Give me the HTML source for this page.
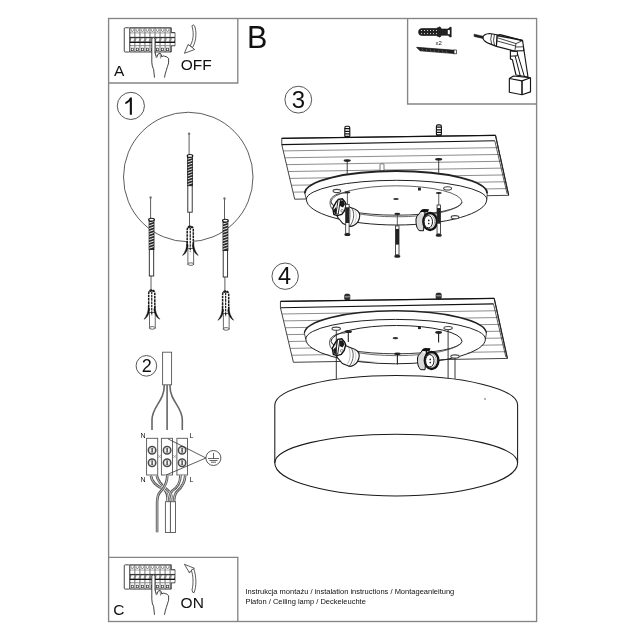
<!DOCTYPE html>
<html><head><meta charset="utf-8">
<style>
html,body{margin:0;padding:0;background:#fff;width:640px;height:640px;overflow:hidden}
svg{display:block;will-change:transform}
text{font-family:"Liberation Sans",sans-serif;fill:#111}
</style></head><body>
<svg width="640" height="640" viewBox="0 0 640 640">
<defs>
  <clipPath id="board3clip"><polygon points="281.75,138.3 495.5,135.3 508.7,195.3 294.7,199.2 281.75,144.6"/></clipPath>
  <!-- anchor (dot at origin) -->
  <g id="anchor">
    <circle cx="0" cy="0" r="1.2" fill="#777" stroke="none"/>
    <line x1="0" y1="0.8" x2="0" y2="21" stroke="#333" stroke-width="0.8"/>
    <rect x="-1.5" y="22" width="4.9" height="30" fill="#2a2a2a" stroke="#111" stroke-width="0.8"/>
    <path d="M-1.4,25.5 L3.2,23.9 M-1.4,28.3 L3.2,26.7 M-1.4,31.1 L3.2,29.5 M-1.4,33.9 L3.2,32.3 M-1.4,36.7 L3.2,35.1 M-1.4,39.5 L3.2,37.9 M-1.4,42.3 L3.2,40.7 M-1.4,45.1 L3.2,43.5 M-1.4,47.9 L3.2,46.3 M-1.4,50.7 L3.2,49.1 " stroke="#fff" stroke-width="0.9"/>
    <ellipse cx="0.9" cy="22.2" rx="2.8" ry="1.4" fill="#fff" stroke="#111" stroke-width="1.1"/>
    <rect x="-1.3" y="52" width="4.4" height="26.5" fill="#fff" stroke="#222" stroke-width="0.9"/>
    <line x1="0.4" y1="78.5" x2="0.4" y2="92.5" stroke="#333" stroke-width="0.8"/>
    <!-- plug -->
    <rect x="-1.2" y="114.9" width="5.8" height="15.8" fill="#fff" stroke="#444" stroke-width="0.8"/>
    <ellipse cx="1.7" cy="130.4" rx="2.9" ry="1.3" fill="#fff" stroke="#444" stroke-width="0.8"/>
    <path d="M-1.9,113 L-1.9,96 Q-1.9,92.6 1.15,92.6 Q4.2,92.6 4.2,96 L4.2,113 Z" fill="#fff" stroke="none"/>
    <path d="M-1.9,113 L-1.9,96 Q-1.9,92.6 1.15,92.6 Q4.2,92.6 4.2,96 L4.2,113" fill="none" stroke="#1a1a1a" stroke-width="1.5" stroke-dasharray="2.6,0.7"/>
    <path d="M-0.9,94.2 Q1.15,92 3.2,94.2" fill="none" stroke="#1a1a1a" stroke-width="1.4"/>
    <line x1="1.15" y1="94" x2="1.15" y2="117.8" stroke="#1a1a1a" stroke-width="1.2" stroke-dasharray="2.6,0.7"/>
    <path d="M-2.2,108 C-2.2,114 -4,118.5 -6.6,121.8 C-3.8,120.4 -1.6,117.5 -0.9,112 Z" fill="#111" stroke="#111" stroke-width="0.4"/>
    <path d="M4.5,108 C4.5,114 6.5,118.5 9.2,121.8 C6.4,120.4 4.1,117.5 3.2,112 Z" fill="#111" stroke="#111" stroke-width="0.4"/>
  </g>
  <!-- hanging screw (top head at origin) -->
  <g id="screw">
    <ellipse cx="0" cy="0" rx="3" ry="1.1" fill="#222" stroke="none"/>
    <line x1="0" y1="0" x2="0" y2="12" stroke="#333" stroke-width="0.8"/>
    <rect x="-1.7" y="12" width="3.4" height="29" fill="#fff" stroke="#222" stroke-width="0.8"/>
    <rect x="-1.7" y="15" width="3.4" height="15.7" fill="#222" stroke="none"/>
    <ellipse cx="0" cy="42.3" rx="3" ry="1.5" fill="#222" stroke="none"/>
  </g>
  <!-- breaker panel -->
<g id="breaker">
<path d="M5.5,0 L47,0 L47,4.8 L50.7,4.8 L50.7,18 L47,18 L47,24.25 L5.5,24.25 Z" fill="#8a8a8a" stroke="#222" stroke-width="0.8"/>
<rect x="0" y="0" width="5.5" height="24.25" rx="1" fill="#fff" stroke="#333" stroke-width="0.9"/>
<path d="M6.10,0.9 h3.85 v3 q0,0.9 -0.9,0.9 h-2.05 q-0.9,0 -0.9,-0.9 Z" fill="#fff"/>
<path d="M6.93,1.6 v1 a1.1,1.1 0 0 0 2.2,0 v-1" fill="none" stroke="#333" stroke-width="0.6"/>
<rect x="6.10" y="5.6" width="3.85" height="3.4" fill="#fff"/>
<path d="M6.40,13.8 L7.20,10.4 L9.95,10.4 L9.15,13.8 Z" fill="#fff"/>
<rect x="6.10" y="15.2" width="3.85" height="2.2" fill="#fff"/>
<rect x="6.10" y="18.4" width="3.85" height="5.2" fill="#fff"/>
<rect x="7.00" y="20.4" width="2.05" height="2.5" fill="none" stroke="#333" stroke-width="0.7"/>
<path d="M11.15,0.9 h3.85 v3 q0,0.9 -0.9,0.9 h-2.05 q-0.9,0 -0.9,-0.9 Z" fill="#fff"/>
<path d="M11.98,1.6 v1 a1.1,1.1 0 0 0 2.2,0 v-1" fill="none" stroke="#333" stroke-width="0.6"/>
<rect x="11.15" y="5.6" width="3.85" height="3.4" fill="#fff"/>
<path d="M11.45,13.8 L12.25,10.4 L15.00,10.4 L14.20,13.8 Z" fill="#fff"/>
<rect x="11.15" y="15.2" width="3.85" height="2.2" fill="#fff"/>
<rect x="11.15" y="18.4" width="3.85" height="5.2" fill="#fff"/>
<rect x="12.05" y="20.4" width="2.05" height="2.5" fill="none" stroke="#333" stroke-width="0.7"/>
<path d="M16.20,0.9 h3.85 v3 q0,0.9 -0.9,0.9 h-2.05 q-0.9,0 -0.9,-0.9 Z" fill="#fff"/>
<path d="M17.02,1.6 v1 a1.1,1.1 0 0 0 2.2,0 v-1" fill="none" stroke="#333" stroke-width="0.6"/>
<rect x="16.20" y="5.6" width="3.85" height="3.4" fill="#fff"/>
<path d="M16.50,13.8 L17.30,10.4 L20.05,10.4 L19.25,13.8 Z" fill="#fff"/>
<rect x="16.20" y="15.2" width="3.85" height="2.2" fill="#fff"/>
<rect x="16.20" y="18.4" width="3.85" height="5.2" fill="#fff"/>
<rect x="17.10" y="20.4" width="2.05" height="2.5" fill="none" stroke="#333" stroke-width="0.7"/>
<path d="M21.25,0.9 h3.85 v3 q0,0.9 -0.9,0.9 h-2.05 q-0.9,0 -0.9,-0.9 Z" fill="#fff"/>
<path d="M22.07,1.6 v1 a1.1,1.1 0 0 0 2.2,0 v-1" fill="none" stroke="#333" stroke-width="0.6"/>
<rect x="21.25" y="5.6" width="3.85" height="3.4" fill="#fff"/>
<path d="M21.55,13.8 L22.35,10.4 L25.10,10.4 L24.30,13.8 Z" fill="#fff"/>
<rect x="21.25" y="15.2" width="3.85" height="2.2" fill="#fff"/>
<rect x="21.25" y="18.4" width="3.85" height="5.2" fill="#fff"/>
<rect x="22.15" y="20.4" width="2.05" height="2.5" fill="none" stroke="#333" stroke-width="0.7"/>
<path d="M26.30,0.9 h3.85 v3 q0,0.9 -0.9,0.9 h-2.05 q-0.9,0 -0.9,-0.9 Z" fill="#fff"/>
<path d="M27.12,1.6 v1 a1.1,1.1 0 0 0 2.2,0 v-1" fill="none" stroke="#333" stroke-width="0.6"/>
<rect x="26.30" y="5.6" width="3.85" height="3.4" fill="#fff"/>
<path d="M26.60,13.8 L27.40,10.4 L30.15,10.4 L29.35,13.8 Z" fill="#fff"/>
<rect x="26.30" y="15.2" width="3.85" height="2.2" fill="#fff"/>
<rect x="26.30" y="18.4" width="3.85" height="5.2" fill="#fff"/>
<rect x="27.20" y="20.4" width="2.05" height="2.5" fill="none" stroke="#333" stroke-width="0.7"/>
<path d="M31.35,0.9 h3.85 v3 q0,0.9 -0.9,0.9 h-2.05 q-0.9,0 -0.9,-0.9 Z" fill="#fff"/>
<path d="M32.17,1.6 v1 a1.1,1.1 0 0 0 2.2,0 v-1" fill="none" stroke="#333" stroke-width="0.6"/>
<rect x="31.35" y="5.6" width="3.85" height="3.4" fill="#fff"/>
<path d="M31.65,13.8 L32.45,10.4 L35.20,10.4 L34.40,13.8 Z" fill="#fff"/>
<rect x="31.35" y="15.2" width="3.85" height="2.2" fill="#fff"/>
<rect x="31.35" y="18.4" width="3.85" height="5.2" fill="#fff"/>
<rect x="32.25" y="20.4" width="2.05" height="2.5" fill="none" stroke="#333" stroke-width="0.7"/>
<path d="M36.40,0.9 h3.85 v3 q0,0.9 -0.9,0.9 h-2.05 q-0.9,0 -0.9,-0.9 Z" fill="#fff"/>
<path d="M37.22,1.6 v1 a1.1,1.1 0 0 0 2.2,0 v-1" fill="none" stroke="#333" stroke-width="0.6"/>
<rect x="36.40" y="5.6" width="3.85" height="3.4" fill="#fff"/>
<path d="M36.70,13.8 L37.50,10.4 L40.25,10.4 L39.45,13.8 Z" fill="#fff"/>
<rect x="36.40" y="15.2" width="3.85" height="2.2" fill="#fff"/>
<rect x="36.40" y="18.4" width="3.85" height="5.2" fill="#fff"/>
<rect x="37.30" y="20.4" width="2.05" height="2.5" fill="none" stroke="#333" stroke-width="0.7"/>
<path d="M41.45,0.9 h3.85 v3 q0,0.9 -0.9,0.9 h-2.05 q-0.9,0 -0.9,-0.9 Z" fill="#fff"/>
<path d="M42.27,1.6 v1 a1.1,1.1 0 0 0 2.2,0 v-1" fill="none" stroke="#333" stroke-width="0.6"/>
<rect x="41.45" y="5.6" width="3.85" height="3.4" fill="#fff"/>
<path d="M41.75,13.8 L42.55,10.4 L45.30,10.4 L44.50,13.8 Z" fill="#fff"/>
<rect x="41.45" y="15.2" width="3.85" height="2.2" fill="#fff"/>
<rect x="41.45" y="18.4" width="3.85" height="5.2" fill="#fff"/>
<rect x="42.35" y="20.4" width="2.05" height="2.5" fill="none" stroke="#333" stroke-width="0.7"/>
<rect x="46.50" y="5.6" width="3.85" height="3.4" fill="#fff"/>
<path d="M46.80,13.8 L47.60,10.4 L50.35,10.4 L49.55,13.8 Z" fill="#fff"/>
<rect x="46.50" y="15.2" width="3.85" height="2.2" fill="#fff"/>
<path d="M5.5,9.8 H50.7" stroke="#222" stroke-width="0.9"/>
<path d="M5.5,14.6 H50.7" stroke="#111" stroke-width="1.2"/>
</g>
  <g id="hand">
    <path d="M151.8,39 Q151.8,37.6 153.4,37.6 Q155,37.6 155,39 L155,52.2 L156.3,56.3 Q158,52.5 160,53.1 L161.8,56.7 Q163.2,55.3 164.9,56.3 Q167,56.5 168.6,58.5 L168.6,63 Q167.5,66.5 166.3,70.3 L164.5,77.6 L154.5,77.6 L153.6,69.4 L151.8,63 Z" fill="#fff" stroke="none"/>
    <path d="M154.5,77.6 L153.6,69.4 Q151.8,66 151.8,62 L151.8,39 Q151.8,37.6 153.4,37.6 Q155,37.6 155,39 L155,52.2 M155,52.2 Q155.5,55 156.3,56.3 M156.8,57.5 Q157.5,53 160,53.1 Q161.5,54 161.8,57 M161.8,56.7 Q163.2,55.3 164.9,56.3 M164.9,56.3 Q167,56.5 168.6,58.5 L168.6,63 Q167.5,66.5 166.3,70.3 Q165,74 164.5,77.6" fill="none" stroke="#222" stroke-width="0.85"/>
    <path d="M155,52.2 L156.2,58 M160,53.1 L160.6,58.5" stroke="#444" stroke-width="0.6"/>
  </g>
</defs>

<g id="frames" fill="none" stroke="#858585" stroke-width="1.35">
  <rect x="108.6" y="18.5" width="428" height="603"/>
  <polyline points="108.6,83 237.8,83 237.8,18.5"/>
  <polyline points="407.6,18.5 407.6,104 536.6,104"/>
  <polyline points="108.6,557.3 237.8,557.3 237.8,621.5"/>
</g>
<g id="letters">
  <text x="114" y="76" font-size="15.5">A</text>
  <text x="180.8" y="69.9" font-size="15.5">OFF</text>
  <text x="113.3" y="615.3" font-size="15.5">C</text>
  <text x="180.6" y="607.9" font-size="15.5">ON</text>
  <text x="247" y="47.6" font-size="30.5">B</text>
  <text x="245.4" y="593.5" font-size="7.5">Instrukcja montażu / instalation instructions / Montageanleitung</text>
  <text x="245.4" y="603.5" font-size="7.5">Plafon / Ceiling lamp / Deckeleuchte</text>
  <text x="435.6" y="44.8" font-size="6" fill="#444">x2</text>
</g>
<g id="numcircles" fill="none" stroke="#444" stroke-width="0.9">
  <circle cx="130.85" cy="105.9" r="13.6"/>
  <circle cx="146.4" cy="365.85" r="10.3"/>
  <circle cx="298.3" cy="99.65" r="13.4"/>
  <circle cx="285.15" cy="276.2" r="13.2"/>
</g>
<g id="nums">
  <path d="M125.3,102.3 Q129,100.6 130.1,97.5 L131.9,97.5 L131.9,114.7 L129.8,114.7 L129.8,101.2 Q128,103.2 125.3,104.3 Z" fill="#111"/>
  <text x="141.8" y="372.1" font-size="18">2</text>
  <text x="291.7" y="108.25" font-size="24">3</text>
  <text x="278" y="284" font-size="23.5">4</text>
</g>

<!-- Box A / C breakers -->
<use href="#breaker" x="124.25" y="27.75"/>
<use href="#hand"/>
<use href="#breaker" x="124.25" y="564.85"/>
<use href="#hand" y="537.2"/>
<!-- OFF arrow -->
<g fill="#fff" stroke="#333" stroke-width="0.8" stroke-linejoin="round">
  <path d="M191.9,26 Q193,23.6 194.5,25.8 C196.6,31 196.8,40 192.5,47.6 L190.3,45.6 C194.2,39 193.6,31 191.9,26 Z"/>
  <path d="M188.1,44.4 L184.4,53.3 L194.7,49.5 Z"/>
  <circle cx="189.2" cy="45.4" r="0.6" fill="#555" stroke="none"/>
</g>
<!-- ON arrow -->
<g fill="#fff" stroke="#333" stroke-width="0.8" stroke-linejoin="round">
  <path d="M184.4,564.25 L194.4,568.3 L189.4,572.7 Z"/>
  <path d="M191.2,570 C193.5,576 193.5,584 192,590 Q192.5,593.5 194.2,592.5 C196.5,586 196.5,577 193.8,568.8 Z"/>
  <circle cx="189.4" cy="572.2" r="0.7" fill="#555" stroke="none"/>
</g>
<!-- Region 1 -->
<circle cx="188.25" cy="177" r="64.75" fill="none" stroke="#333" stroke-width="0.8"/>
<use href="#anchor" x="150.6" y="197.5"/>
<use href="#anchor" x="189.1" y="133.7"/>
<use href="#anchor" x="224.5" y="198.5"/>

<!-- Region 2 wiring -->
<g fill="none">
  <rect x="162.6" y="352.2" width="9" height="32.6" fill="#fff" stroke="#555" stroke-width="0.9"/>
  <path d="M164.3,385 C164.3,402 152,406 152,420 L152,430" stroke="#666" stroke-width="1.6"/>
  <path d="M167.1,385 L167.1,430" stroke="#666" stroke-width="1.6"/>
  <path d="M169.9,385 C169.9,402 182.3,406 182.3,420 L182.3,430" stroke="#666" stroke-width="1.6"/>
  <!-- blocks -->
  <g stroke="#555" stroke-width="0.9" fill="#fff">
    <rect x="146.6" y="438.3" width="11.1" height="36.7"/>
    <rect x="161.4" y="438.3" width="11.1" height="36.7"/>
    <rect x="176.9" y="438.3" width="10.6" height="36.7"/>
  </g>
  <g stroke="#4a4a4a" stroke-width="1.5" fill="#fff">
    <circle cx="152.1" cy="450.2" r="3.75"/><circle cx="167.1" cy="450.2" r="3.75"/><circle cx="182.1" cy="450.2" r="3.75"/>
    <circle cx="152.1" cy="462.8" r="3.75"/><circle cx="167.1" cy="462.8" r="3.75"/><circle cx="182.1" cy="462.8" r="3.75"/>
  </g>
  <g stroke="#aaa" stroke-width="0.5" fill="none">
    <circle cx="152.1" cy="450.2" r="2.5"/><circle cx="167.1" cy="450.2" r="2.5"/><circle cx="182.1" cy="450.2" r="2.5"/>
    <circle cx="152.1" cy="462.8" r="2.5"/><circle cx="167.1" cy="462.8" r="2.5"/><circle cx="182.1" cy="462.8" r="2.5"/>
  </g>
  <path d="M152.1,447.9V452.5M167.1,447.9V452.5M182.1,447.9V452.5M152.1,460.5V465.1M167.1,460.5V465.1M182.1,460.5V465.1" stroke="#111" stroke-width="1.1"/>
  <path d="M157.7,454.5 L161.4,458.5 M157.7,458.5 L161.4,454.5 M172.5,454.5 L176.9,458.5 M172.5,458.5 L176.9,454.5" stroke="#888" stroke-width="0.6"/>
  <path d="M168,438.9 L205.9,458 L166.1,475" stroke="#333" stroke-width="0.8"/>
  <circle cx="213.4" cy="458" r="7.5" stroke="#444" stroke-width="0.9"/>
  <path d="M213.5,452.8V458.5M208,458.5H219M209.5,460.5H217.5M211,462.2H216" stroke="#555" stroke-width="0.9"/>
  <!-- lower wires -->
  <path d="M150.9,475 C151.5,484 160,487 164.5,490 C167.5,492.5 167.7,496 167.7,502" stroke="#fff" stroke-width="3.6"/>
  <path d="M150.9,475 C151.5,484 160,487 164.5,490 C167.5,492.5 167.7,496 167.7,502" stroke="#555" stroke-width="2.6"/>
  <path d="M150.9,475 C151.5,484 160,487 164.5,490 C167.5,492.5 167.7,496 167.7,502" stroke="#d0d0d0" stroke-width="0.9"/>
  <path d="M156.7,475 C157.5,482 163.5,487 168.4,490.75 C171,493 172,497 172,502" stroke="#fff" stroke-width="3.6"/>
  <path d="M156.7,475 C157.5,482 163.5,487 168.4,490.75 C171,493 172,497 172,502" stroke="#555" stroke-width="2.6"/>
  <path d="M156.7,475 C157.5,482 163.5,487 168.4,490.75 C171,493 172,497 172,502" stroke="#d0d0d0" stroke-width="0.9"/>
  <path d="M180.5,475 C180.5,482 177,488 172.3,490.75 C170,493 169.2,497 169,502" stroke="#fff" stroke-width="3.6"/>
  <path d="M180.5,475 C180.5,482 177,488 172.3,490.75 C170,493 169.2,497 169,502" stroke="#555" stroke-width="2.6"/>
  <path d="M180.5,475 C180.5,482 177,488 172.3,490.75 C170,493 169.2,497 169,502" stroke="#d0d0d0" stroke-width="0.9"/>
  <path d="M185.2,475 C185.2,482 181,488 177,491.5 C175,493.5 174.2,497 174,502" stroke="#fff" stroke-width="3.6"/>
  <path d="M185.2,475 C185.2,482 181,488 177,491.5 C175,493.5 174.2,497 174,502" stroke="#555" stroke-width="2.6"/>
  <path d="M185.2,475 C185.2,482 181,488 177,491.5 C175,493.5 174.2,497 174,502" stroke="#d0d0d0" stroke-width="0.9"/>
  <path d="M167.3,475 C167.3,482 165,487 160.6,491.5 C158,494 157.1,497 157.1,503 L157.1,532.3" stroke="#fff" stroke-width="3.6"/>
  <path d="M167.3,475 C167.3,482 165,487 160.6,491.5 C158,494 157.1,497 157.1,503 L157.1,532.3" stroke="#555" stroke-width="2.6"/>
  <path d="M167.3,475 C167.3,482 165,487 160.6,491.5 C158,494 157.1,497 157.1,503 L157.1,532.3" stroke="#d0d0d0" stroke-width="0.9"/>
  <rect x="165.4" y="501.7" width="5" height="30.8" fill="#fff" stroke="#555" stroke-width="0.9"/>
  <rect x="170.4" y="501.7" width="5.1" height="30.8" fill="#fff" stroke="#555" stroke-width="0.9"/>
</g>
<g font-size="7" fill="#222">
  <text x="140.6" y="438.2">N</text><text x="189.6" y="438.2">L</text>
  <text x="140.6" y="482">N</text><text x="189.6" y="482">L</text>
</g>

<!-- ===== Region 3 ===== -->
<g id="board3">
  <polygon points="281.75,138.3 495.5,135.3 508.7,195.3 294.7,199.2 281.75,144.6" fill="#fff" stroke="#3a3a3a" stroke-width="0.95"/>
  <g clip-path="url(#board3clip)">
    <path d="M275.0,151.04L515.0,147.37M275.0,157.94L515.0,154.22M275.0,164.84L515.0,161.06M275.0,171.74L515.0,167.91M275.0,178.65L515.0,174.76M275.0,185.55L515.0,181.60M275.0,192.45L515.0,188.45" stroke="#5a5a5a" stroke-width="0.7"/>
  </g>
  <path d="M281.75,138.3 L495.5,135.3" stroke="#111" stroke-width="1.25"/>
  <path d="M281.75,144.6 L494.8,140.8" stroke="#111" stroke-width="1.1"/>
  <path d="M494.8,140.8 L507.1,193.8" stroke="#333" stroke-width="0.8"/>
  <path d="M495.5,135.3 L508.7,195.3" stroke="#222" stroke-width="1.1"/>
</g>
<!-- bolts on top of board 3 -->
<g stroke="#111" stroke-width="1.1">
  <rect x="344.8" y="126.3" width="5" height="11.2" rx="1.6" fill="#fff"/>
  <path d="M344.8,128.6h5M344.8,131.3h5M344.8,133.8h5M344.8,136.5h5" stroke-width="1.3"/>
  <rect x="436.4" y="124.9" width="5" height="10.8" rx="1.6" fill="#fff"/>
  <path d="M436.4,127.2h5M436.4,129.8h5M436.4,132.3h5M436.4,134.9h5" stroke-width="1.3"/>
</g>
<!-- board holes & lines to ring -->
<ellipse cx="347.2" cy="160.6" rx="3.6" ry="1.3" fill="#222"/>
<ellipse cx="438.7" cy="159.3" rx="3.6" ry="1.3" fill="#222"/>
<path d="M347.2,161 V174 M438.7,160 V172.8" stroke="#222" stroke-width="0.85"/>
<!-- pin -->
<rect x="380" y="163.8" width="4" height="7" rx="1" fill="#fff" stroke="#444" stroke-width="0.7"/>
<!-- canopy 3 -->
<g id="canopy3" fill="none" stroke="#222">
  <path d="M304.8,193.4 A91.2,22.4 0 0 1 487.2,193.4 L486.8,199.4 A89.9,25.6 0 0 1 306.4,199.4 Z" fill="#fff" stroke="none"/>
  <path d="M304.8,193.4 A91.2,22.4 0 0 1 487.2,193.4" stroke-width="1.8"/>
  <path d="M304.8,193.4 L306.4,199.4 M487.2,193.4 L486.8,199.4" stroke-width="0.8"/>
  <path d="M306.4,199.4 A90.2,19.1 0 0 1 486.8,199.4" stroke-width="1"/>
  <path d="M486.8,199.4 A90.2,25.6 0 0 1 306.4,199.4" stroke-width="1"/>
  <path d="M331,202 A65.5,16.2 0 0 1 462,202" stroke-width="0.85" stroke="#444"/>
  <path d="M462,202 A65.5,13.2 0 0 1 331,202" stroke-width="0.9"/>
  <path d="M462,202.5 A66,16.3 0 0 1 331,202.5" stroke-width="0.8" stroke="#444"/>
</g>
<!-- rim slots -->
<g fill="#fff" stroke="#444" stroke-width="1.1">
  <ellipse cx="336.9" cy="191" rx="3.8" ry="1.6"/>
  <ellipse cx="447.6" cy="188.4" rx="3.9" ry="1.6"/>
  <ellipse cx="455" cy="217.2" rx="3.8" ry="1.6"/>
</g>
<rect x="418" y="187.6" width="2.9" height="2.9" fill="#222"/>
<ellipse cx="396" cy="199" rx="2.8" ry="1.1" fill="#333"/>
<!-- socket left (3) -->
<g id="sockL3">
  <path d="M332.2,208.9 C329,205 329.5,199 333,196.5 C337,193.5 341,193 346,193" fill="none" stroke="#333" stroke-width="0.85"/>
  <path d="M344.6,204.9 L351.3,207.75 C356,209 359.75,212 359.75,215.6 C359.75,220 357,224 354.1,225.2 C352,226.3 350.5,226.5 349.6,226.3 L342.9,223.5 L337.25,216.75 Z" fill="#fff" stroke="#1a1a1a" stroke-width="1.1"/>
  <path d="M351.3,207.75 C354.5,211 355,220 349.6,226.3" fill="none" stroke="#333" stroke-width="0.8"/>
  <path d="M348.5,206.8 C351.3,210 351.6,219 347.8,224.3" fill="none" stroke="#888" stroke-width="0.6"/>
  <path d="M354,209.5 C357.3,213 357.3,220 353,224.5" fill="none" stroke="#999" stroke-width="0.5"/>
  <path d="M332.75,208.3 L336.1,202.1 L338.4,199.3 L342.3,198.75 L345.1,202.1 L346.2,204.9 L344.6,210.6 L341.75,214.5 L337.25,215.6 L333.9,214.5 Z" fill="#fff" stroke="#111" stroke-width="1.4"/>
  <path d="M339.8,200.5 L343.5,200.5 L345,204.5 L343,207.5 L340,206 Z" fill="#1a1a1a"/>
  <path d="M333.5,210 L336,207 L337.5,213 L335,214.2 Z" fill="#1a1a1a"/>
  <path d="M338.2,199.3 L340.4,199.7 L338.2,214.2 L336,213.8 Z" fill="#fff" stroke="#111" stroke-width="0.9"/>
  <circle cx="342.2" cy="210.8" r="1.3" fill="#fff" stroke="#333" stroke-width="0.6"/>
</g>
<!-- socket right (3) -->
<g id="sockR3">
  <path d="M421,211 L419,214 Q416.3,216 416,219 Q415.8,226 417.6,228.5 L419,230.6 L423.5,230.8 L425,212 Z" fill="#d8d8d8" stroke="#111" stroke-width="1"/>
  <path d="M420.3,212 Q420.8,209 424,209 L429,209.3 L428,212.2 Z" fill="#111"/>
  <circle cx="422.6" cy="213.2" r="0.9" fill="#fff"/>
  <ellipse cx="430.1" cy="221.5" rx="6.8" ry="8.5" fill="#fff" stroke="#111" stroke-width="2.4"/>
  <ellipse cx="429.4" cy="221.6" rx="5.3" ry="7" fill="none" stroke="#666" stroke-width="0.6"/>
  <ellipse cx="428.3" cy="221.75" rx="4.2" ry="6.2" fill="#fff" stroke="#111" stroke-width="1"/>
  <circle cx="428.75" cy="220.4" r="0.85" fill="#222"/><circle cx="428.75" cy="223.5" r="0.85" fill="#222"/>
</g>
<!-- screws -->
<use href="#screw" x="347.4" y="192.3"/>
<use href="#screw" x="397.3" y="213.9"/>
<use href="#screw" x="438.75" y="193"/>

<!-- ===== Region 4 ===== -->
<use href="#board3" transform="translate(-1.3,163.1)"/>
<!-- nuts on board 4 -->
<g fill="#333" stroke="#111" stroke-width="0.6">
  <rect x="344.6" y="294.1" width="5.3" height="6" rx="1.5"/>
  <rect x="436" y="293.1" width="5.3" height="5.8" rx="1.5"/>
</g>
<path d="M344.8,296.8h5M436.2,295.8h5" stroke="#fff" stroke-width="0.6"/>
<!-- canopy 4 -->
<g fill="none" stroke="#222">
  <path d="M304.4,333.6 A91,22.8 0 0 1 486.4,333.6 L485.4,339 A89.9,24.8 0 0 1 305.8,339 Z" fill="#fff" stroke="none"/>
  <path d="M304.4,333.6 A91,22.8 0 0 1 486.4,333.6" stroke-width="1.4"/>
  <path d="M304.4,333.6 L305.8,339 M486.4,333.6 L485.4,339" stroke-width="0.8"/>
  <path d="M305.8,339 A89.8,19.6 0 0 1 485.4,339" stroke-width="1"/>
  <path d="M485.4,339 A89.8,24.8 0 0 1 305.8,339" stroke-width="1"/>
  <path d="M331,341.3 A65.5,15.8 0 0 1 462,341.3" stroke-width="1"/>
  <path d="M462,341.3 A65.5,12.5 0 0 1 331,341.3" stroke-width="0.9"/>
  <path d="M462,341.8 A66,15.8 0 0 1 331,341.8" stroke-width="0.8" stroke="#444"/>
</g>
<g fill="#fff" stroke="#444" stroke-width="1.1">
  <ellipse cx="336.2" cy="328.7" rx="4.2" ry="1.6"/>
  <ellipse cx="448.1" cy="328.1" rx="4.2" ry="1.6"/>
  <ellipse cx="455" cy="356.5" rx="4.2" ry="1.6"/>
</g>
<rect x="418" y="326.2" width="2.9" height="2.9" fill="#222"/>
<ellipse cx="395.4" cy="338.2" rx="2.8" ry="1.1" fill="#333"/>
<!-- socket left (4) -->
<use href="#sockL3" transform="translate(-0.5,140)"/>
<!-- socket right (4) -->
<use href="#sockR3" transform="translate(1.5,139)"/>
<!-- short screws -->
<g fill="#222" stroke="#222">
  <ellipse cx="348.3" cy="331.5" rx="3.6" ry="1.5" stroke="none"/>
  <ellipse cx="438.6" cy="332.5" rx="3.4" ry="1.4" stroke="none"/>
  <ellipse cx="397.4" cy="353.8" rx="3.2" ry="1.3" stroke="none"/>
  <path d="M348.3,332V342M438.6,333V342.5M397.4,354V364.4" stroke-width="1.1" fill="none"/>
</g>
<!-- rods -->
<path d="M336.3,330.3 V379.5 M448.1,329.7 V378.2 M455,358.1 V378.8" stroke="#222" stroke-width="0.9"/>
<!-- drum -->
<g fill="none" stroke="#1a1a1a" stroke-width="1.05">
  <path d="M274.8,405 A121.4,29.5 0 0 1 517.6,405 L517.6,463 A121.4,33 0 0 1 274.8,463 Z" fill="#fff"/>
  <path d="M274.8,463 A121.4,28.8 0 0 1 517.6,463"/>
</g>
<circle cx="485" cy="399" r="0.7" fill="#333"/>

<!-- ===== Drill box ===== -->
<!-- wall plug -->
<g>
  <path d="M418.5,32 Q418.5,28.5 422,28.5 L436,28.5 L440,26.8 L441.5,29 L448,29 L450,27.2 L451.2,27.2 L451.2,37 L450,37 L448,35.3 L441.5,35.3 L440,37.2 L436,35.5 L422,35.5 Q418.5,35.5 418.5,32 Z" fill="#222" stroke="#111" stroke-width="0.6"/>
  <path d="M421,30.5h1M424,30.5h1M427,30.5h1M430,30.5h1M433,30.5h1M436,30.5h1M421,33.6h1M424,33.6h1M427,33.6h1M430,33.6h1M433,33.6h1M436,33.6h1" stroke="#fff" stroke-width="0.8"/>
  <rect x="447.8" y="30" width="2" height="4.2" fill="#fff"/>
</g>
<!-- screw -->
<path d="M416.6,47.3 L455,50.3 L455,53.6 L420,50.8 Z" fill="#222" stroke="#111" stroke-width="0.7"/>
<rect x="454" y="50" width="2.4" height="3.8" fill="#fff" stroke="#222" stroke-width="0.7"/>
<path d="M422,48.6l1,2M426,49l1,2M430,49.3l1,2M434,49.7l1,2M438,50l1,2M442,50.4l1,2M446,50.7l1,2" stroke="#888" stroke-width="0.5"/>
<!-- drill -->
<g fill="#fff" stroke="#151515" stroke-width="1.15" stroke-linejoin="round">
  <path d="M474.1,34.2 L483,36.3 L483,38.4 L474.1,36.4 Z" fill="#222" stroke-width="0.6"/>
  <!-- handle -->
  <path d="M510.4,50.5 L510.4,58.9 L512.4,59.7 L516,75 L528,77 L523.7,48.5 Z"/>
  <path d="M515.1,55.8 L520.5,76.9 M517.4,53.4 L524.5,76.9 M510.4,51.1 L517.4,51.5 L517.4,55.8 L510.4,56.2" stroke-width="1" fill="none"/>
  <!-- body -->
  <path d="M497,35.4 L500,34.6 L522.6,40.5 L523.6,47.5 L523.7,50.6 L514.8,51 L496.4,46.4 Z"/>
  <path d="M497,35.4 L522.6,40.5" stroke-width="1.5" fill="none"/>
  <path d="M497.6,37.8 L516,43.6 L522.6,40.5 M496.8,40.9 L515.5,46 M516,43.6 L514.8,51 M515.5,47 L523.6,46.8" stroke-width="0.8" fill="none"/>
  <!-- chuck -->
  <path d="M483.1,36.5 Q484.5,34 489.4,33.5 L497,34.8 L496.4,46.4 L489.4,43.6 Q484.5,42 483.1,38.8 Z"/>
  <path d="M491.7,33.9 Q489.6,39.5 491.9,44.6 M494.5,34.3 Q492.5,40.5 494.6,45.6" stroke-width="0.8" fill="none"/>
  <!-- battery -->
  <path d="M509.35,78.5 L513.4,76 L530.5,77.7 L530.5,91.9 L522,94.75 L509.35,92.3 Z"/>
  <path d="M509.35,78.5 L522,80.9 L530.5,77.7" stroke-width="1.2" fill="none"/>
  <path d="M522,80.9 L522,94.75" stroke-width="1.6" fill="none"/>
</g>

</svg>
</body></html>
